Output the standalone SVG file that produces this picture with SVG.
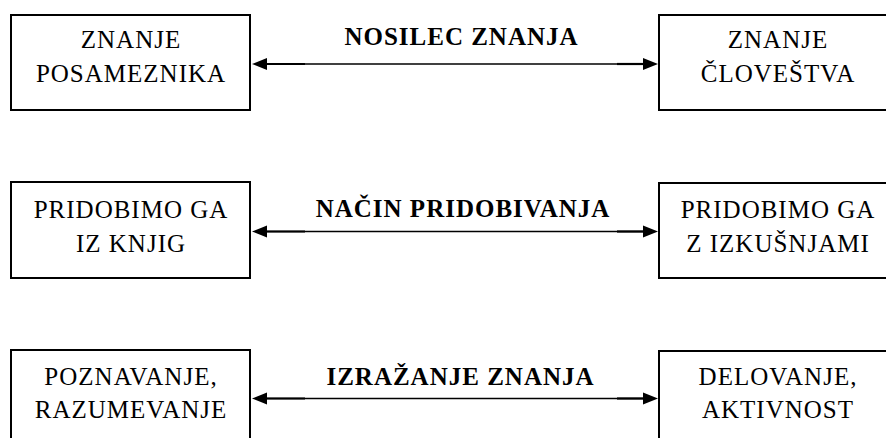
<svg xmlns="http://www.w3.org/2000/svg" width="886" height="438" viewBox="0 0 886 438">
<style>
.box{fill:#fff;stroke:#000;stroke-width:2}
.t{font-family:'Liberation Serif','DejaVu Serif',serif;font-size:25px;letter-spacing:1px;fill:#000;text-anchor:middle}
.lbl{font-family:'Liberation Serif','DejaVu Serif',serif;font-size:25px;letter-spacing:1px;font-weight:bold;fill:#000;text-anchor:middle}
.thin{stroke:#000;stroke-width:1.3;fill:none}
.thick{stroke:#000;stroke-width:2.2;fill:none}
.head{fill:#000}
</style>
<rect width="886" height="438" fill="#fff"/>
<g id="connectors">
  <g id="c1">
    <line class="thin" x1="262" y1="64" x2="650" y2="64"/>
    <line class="thick" x1="262" y1="64" x2="305" y2="64"/>
    <line class="thick" x1="617" y1="64" x2="648" y2="64"/>
    <polygon class="head" points="252,64 267,58 267,70"/>
    <polygon class="head" points="658,64 643,58 643,70"/>
    <text class="lbl" x="461.5" y="45">NOSILEC ZNANJA</text>
  </g>
  <g id="c2">
    <line class="thin" x1="262" y1="231.5" x2="650" y2="231.5"/>
    <line class="thick" x1="262" y1="231.5" x2="305" y2="231.5"/>
    <line class="thick" x1="617" y1="231.5" x2="648" y2="231.5"/>
    <polygon class="head" points="252,231.5 267,225.5 267,237.5"/>
    <polygon class="head" points="658,231.5 643,225.5 643,237.5"/>
    <text class="lbl" x="463" y="217">NAČIN PRIDOBIVANJA</text>
  </g>
  <g id="c3">
    <line class="thin" x1="262" y1="398.5" x2="650" y2="398.5"/>
    <line class="thick" x1="262" y1="398.5" x2="305" y2="398.5"/>
    <line class="thick" x1="617" y1="398.5" x2="648" y2="398.5"/>
    <polygon class="head" points="252,398.5 267,392.5 267,404.5"/>
    <polygon class="head" points="658,398.5 643,392.5 643,404.5"/>
    <text class="lbl" x="460.5" y="385">IZRAŽANJE ZNANJA</text>
  </g>
</g>
<g id="n1">
  <rect class="box" x="11" y="15" width="239" height="95"/>
  <text class="t" x="131" y="48">ZNANJE</text>
  <text class="t" x="131" y="82">POSAMEZNIKA</text>
</g>
<g id="n2">
  <rect class="box" x="659" y="15" width="239" height="95"/>
  <text class="t" x="778" y="48">ZNANJE</text>
  <text class="t" x="778" y="82">ČLOVEŠTVA</text>
</g>
<g id="n3">
  <rect class="box" x="11" y="182" width="239" height="96"/>
  <text class="t" x="131" y="218">PRIDOBIMO GA</text>
  <text class="t" x="131" y="252">IZ KNJIG</text>
</g>
<g id="n4">
  <rect class="box" x="659" y="183" width="239" height="95"/>
  <text class="t" x="778" y="218">PRIDOBIMO GA</text>
  <text class="t" x="778" y="252">Z IZKUŠNJAMI</text>
</g>
<g id="n5">
  <rect class="box" x="11" y="350" width="239" height="100"/>
  <text class="t" x="131" y="385">POZNAVANJE,</text>
  <text class="t" x="131" y="418">RAZUMEVANJE</text>
</g>
<g id="n6">
  <rect class="box" x="659" y="351" width="239" height="100"/>
  <text class="t" x="778" y="385">DELOVANJE,</text>
  <text class="t" x="778" y="418">AKTIVNOST</text>
</g>
</svg>
